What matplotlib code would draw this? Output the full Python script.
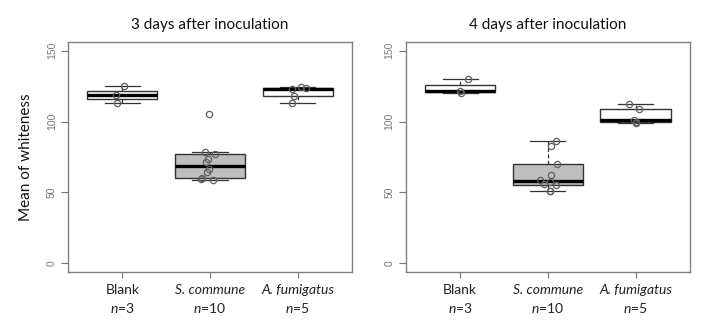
import numpy as np
import matplotlib
matplotlib.use("Agg")
import matplotlib.pyplot as plt

plt.rcParams['font.family'] = ['Lato', 'DejaVu Sans']
plt.rcParams['mathtext.fontset'] = 'custom'
plt.rcParams['mathtext.rm'] = 'Lato'
plt.rcParams['mathtext.it'] = 'Lato:italic'

# ---- data ----
categories = ['Blank', 'S. commune', 'A. fumigatus']
italic_cat = [False, True, True]
box_colors = ['white', '#bebebe', 'white']
titles = ['3 days after inoculation', '4 days after inoculation']

day3_blank = [124.8, 118.4, 113.0]
day3_scomm = [105.1, 78.5, 76.9, 73.8, 71.7, 66.3, 64.6, 60.4, 59.2, 58.7]
day3_afum = [123.0, 124.0, 117.8, 113.2, 123.3]
day4_blank = [130.0, 120.1, 121.5]
day4_scomm = [86.0, 82.4, 70.4, 62.3, 58.8, 56.0, 57.3, 55.4, 51.2, 51.0]
day4_afum = [112.0, 108.6, 100.9, 98.6, 99.5]

# horizontal jitter (category units)
day3_jit = [[0.02, -0.07, -0.06],
            [-0.01, -0.06, 0.06, -0.02, -0.04, -0.01, -0.03, -0.09, -0.10, 0.03],
            [-0.06, 0.04, -0.04, -0.06, 0.09]]
day4_jit = [[0.09, 0.01, 0.0],
            [0.09, 0.04, 0.10, 0.04, -0.09, -0.04, 0.02, 0.09, 0.03, 0.02],
            [-0.08, 0.04, -0.02, 0.0, 0.01]]

panels = [([day3_blank, day3_scomm, day3_afum], day3_jit),
          ([day4_blank, day4_scomm, day4_afum], day4_jit)]


def fivenum(x):
    x = np.sort(np.asarray(x, float))
    n = len(x)
    n4 = np.floor((n + 3) / 2) / 2
    d = np.array([1, n4, (n + 1) / 2, n + 1 - n4, n]) - 1
    return 0.5 * (x[np.floor(d).astype(int)] + x[np.ceil(d).astype(int)])


def rstats(x):
    mn, lo, med, hi, mx = fivenum(x)
    iqr = hi - lo
    arr = np.asarray(x, float)
    inside = arr[(arr >= lo - 1.5 * iqr) & (arr <= hi + 1.5 * iqr)]
    fl = arr[(arr < lo - 1.5 * iqr) | (arr > hi + 1.5 * iqr)]
    return dict(med=med, q1=lo, q3=hi, whislo=inside.min(), whishi=inside.max(),
                fliers=fl)


fig = plt.figure(figsize=(7.2, 3.3), dpi=100)
ax_pos = [[68 / 720, 1 - 272 / 330, 284 / 720, 230 / 330],
          [405.7 / 720, 1 - 272 / 330, 284.3 / 720, 230 / 330]]

edge = '#333333'
ptcol = '#606060'
for i, (groups, jit) in enumerate(panels):
    ax = fig.add_axes(ax_pos[i])
    stats = [rstats(g) for g in groups]
    pos = np.arange(1, len(groups) + 1)
    bp = ax.bxp(stats, positions=pos, widths=0.8, capwidths=0.4,
                patch_artist=True, showfliers=False,
                boxprops=dict(edgecolor=edge, linewidth=1.0),
                whiskerprops=dict(color=edge, linestyle=(0, (3, 2)), linewidth=0.9),
                capprops=dict(color=edge, linewidth=0.9),
                medianprops=dict(color='black', linewidth=2.4))
    for patch, c in zip(bp['boxes'], box_colors):
        patch.set_facecolor(c)
    for k, (g, j) in enumerate(zip(groups, jit)):
        ax.plot(pos[k] + np.asarray(j), g, linestyle='none', marker='o',
                markerfacecolor='none', markeredgecolor=ptcol,
                markersize=4.5, markeredgewidth=0.9, zorder=5)
    ax.set_xlim(0.38, 3.62)
    ax.set_ylim(-6, 156)
    ax.set_yticks([0, 50, 100, 150])
    ax.set_yticklabels(['0', '50', '100', '150'], rotation=90, va='center',
                       fontsize=7.5, color='#777777', family='Liberation Sans')
    ax.set_xticks(pos)
    ax.set_xticklabels([''] * len(pos))
    tr = ax.get_xaxis_transform()
    for k, (c, it, g) in enumerate(zip(categories, italic_cat, groups)):
        ax.text(pos[k], -0.078, c, transform=tr, ha='center', va='center',
                fontsize=10, color='#222222',
                fontstyle='italic' if it else 'normal')
        ax.text(pos[k], -0.157, r'$\mathit{n}$=' + str(len(g)), transform=tr,
                ha='center', va='center', fontsize=10, color='#222222')
    ax.tick_params(axis='y', length=5, width=0.8, color='#777777', pad=3)
    ax.tick_params(axis='x', length=4, width=0.8, color='#777777')
    for s in ax.spines.values():
        s.set_color('#808080')
        s.set_linewidth(1.0)
    ax.set_title(titles[i], fontsize=11, color='#111111', pad=9)
    if i == 0:
        ax.set_ylabel('Mean of whiteness', fontsize=11, color='#111111',
                      labelpad=10)

fig.savefig('out.png', dpi=100, facecolor='white')
